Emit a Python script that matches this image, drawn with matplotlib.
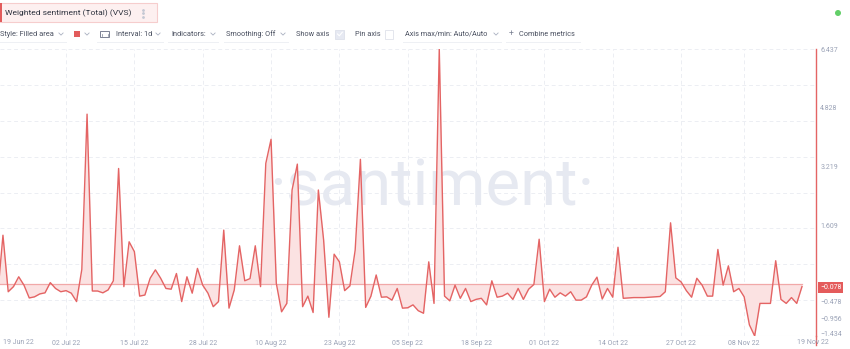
import numpy as np
import pandas as pd
import matplotlib
matplotlib.use("Agg")
import matplotlib.pyplot as plt
import matplotlib.dates as mdates
import matplotlib.transforms as mtransforms
from matplotlib.patches import Rectangle, Circle

plt.rcParams["font.family"] = ["Roboto", "DejaVu Sans"]

# daily weighted sentiment, starting 19 Jun 22
start_date = "2022-06-19"
sentiment = [
    -0.30, 1.33, -0.22, -0.08, 0.19, -0.04, -0.39, -0.36, -0.28, -0.25,
    0.03, -0.13, -0.22, -0.19, -0.26, -0.49, 0.39, 4.65, -0.20, -0.20,
    -0.25, -0.17, 0.08, 3.16, -0.08, 1.15, 0.88, -0.34, -0.31, 0.15,
    0.38, 0.15, -0.13, -0.15, 0.28, -0.49, 0.19, -0.26, 0.42, -0.04,
    -0.26, -0.63, -0.49, 1.47, -0.67, -0.17, 1.04, 0.08, 0.14, 1.04,
    -0.08, 3.30, 3.96, 0.01, -0.77, -0.54, 2.57, 3.28, -0.63, -0.34,
    -0.79, 2.57, 1.20, -0.92, 0.81, 0.60, -0.19, -0.06, 0.92, 3.41,
    -0.65, -0.34, 0.24, -0.37, -0.36, -0.45, -0.13, -0.67, -0.66, -0.58,
    -0.74, -0.81, 0.60, -0.54, 6.437, -0.34, -0.47, -0.04, -0.40, -0.13,
    -0.49, -0.43, -0.40, -0.58, 0.08, -0.37, -0.34, -0.26, -0.43, -0.13,
    -0.43, -0.15, -0.02, 1.22, -0.49, -0.15, -0.37, -0.25, -0.34, -0.22,
    -0.45, -0.45, -0.36, -0.04, 0.18, -0.42, -0.13, -0.37, 1.00, -0.40,
    -0.39, -0.38, -0.38, -0.38, -0.37, -0.36, -0.35, -0.22, 1.67, 0.16,
    0.05, -0.19, -0.37, 0.15, -0.04, -0.34, -0.34, 0.94, -0.04, 0.49,
    -0.22, -0.13, -0.36, -1.13, -1.434, -0.54, -0.54, -0.54, 0.63, -0.43,
    -0.54, -0.38, -0.54, -0.078,
]
tick_dates = [
    "2022-07-02", "2022-07-15", "2022-07-28", "2022-08-10", "2022-08-23",
    "2022-09-05", "2022-09-18", "2022-10-01", "2022-10-14", "2022-10-27",
    "2022-11-08",
]
y_ticks = [6.437, 4.828, 3.219, 1.609, -0.478, -0.956, -1.434]
y_max, y_min = 6.437, -1.434

dates = pd.date_range(start_date, periods=len(sentiment), freq="D")
ticks = pd.to_datetime(tick_dates)

W, H = 850, 349
PLOT_TOP, PLOT_BOTTOM, PLOT_RIGHT = 49, 336, 816
RED = "#e46464"
GRID = "#eceef3"
MUTED = "#9aa2b6"


def fmt(v):
    return f"{v:.3f}".replace("-", "\u2212")


fig = plt.figure(figsize=(W / 100, H / 100), dpi=100, facecolor="white")

# pixel-space layer for the header and toolbar
ui = fig.add_axes([0, 0, 1, 1], zorder=0)
ui.set_xlim(0, W)
ui.set_ylim(H, 0)
ui.axis("off")

ax = fig.add_axes([0, (H - PLOT_BOTTOM) / H, PLOT_RIGHT / W,
                   (PLOT_BOTTOM - PLOT_TOP) / H], zorder=1)
ax.patch.set_alpha(0)

# --- header -------------------------------------------------------------
ui.add_patch(Rectangle((0, 3), 157, 19, fc="#fdf0f0", ec="#f6cdcd", lw=0.8))
ui.add_patch(Rectangle((0, 3), 1.6, 19, fc="#e25c5c", ec="none"))
ui.text(5, 13, "Weighted sentiment (Total) (VVS)", fontsize=6.1,
        color="#2f3440", va="center", ha="left")
ui.plot([143, 143, 143], [9.5, 13, 16.5], "o", ms=1.0, color="#c3c8d3")
ui.add_patch(Circle((838, 13), 3, fc="#62cf68", ec="none"))


def chevron(x, y, color="#a9b0c0"):
    ui.plot([x - 2.2, x, x + 2.2], [y - 1.1, y + 1.1, y - 1.1],
            color=color, lw=0.6, solid_capstyle="round")


bar_y = 34
tool_text = dict(fontsize=5.3, color="#4a5060", va="center", ha="left")
ui.text(0, bar_y, "Style: Filled area", **tool_text)
chevron(61, bar_y)
ui.add_patch(Rectangle((74, bar_y - 2.8), 5.6, 5.6, fc="#e25c5c", ec="none"))
chevron(87, bar_y)
ui.add_patch(Rectangle((100.5, bar_y - 3.2), 9, 6.6, fc="none", ec="#7c8294", lw=0.7))
ui.plot([102, 102], [bar_y - 0.5, bar_y + 2], color="#7c8294", lw=0.5)
ui.plot([108, 108], [bar_y - 0.5, bar_y + 2], color="#7c8294", lw=0.5)
ui.text(116, bar_y, "Interval: 1d", **tool_text)
chevron(158, bar_y)
ui.text(171, bar_y, "Indicators:", **tool_text)
chevron(213, bar_y)
ui.text(226, bar_y, "Smoothing: Off", **tool_text)
chevron(283, bar_y)
ui.text(296, bar_y, "Show axis", **tool_text)
ui.add_patch(Rectangle((335, bar_y - 4.5), 9, 9, fc="#e6e9f2", ec="#dde1ea", lw=0.6))
ui.plot([337.5, 339.3, 342.3], [bar_y, bar_y + 1.8, bar_y - 1.8], color="white", lw=0.8)
ui.text(355, bar_y, "Pin axis", **tool_text)
ui.add_patch(Rectangle((385, bar_y - 4.5), 8.5, 9, fc="white", ec="#dfe2ea", lw=0.6))
ui.text(405, bar_y, "Axis max/min: Auto/Auto", **tool_text)
chevron(496, bar_y)
ui.text(509, bar_y, "+", fontsize=6.2, color="#7c8294", va="center", ha="left")
ui.text(519, bar_y, "Combine metrics", **tool_text)
for x0, x1 in [(0, 66), (97, 163), (168, 218), (224, 288), (403, 501), (506, 580)]:
    ui.plot([x0, x1], [41.5, 41.5], color="#eef0f4", lw=0.7)
ui.plot([PLOT_RIGHT, PLOT_RIGHT], [PLOT_BOTTOM, 345], color=RED, lw=1)

# --- chart --------------------------------------------------------------
ax.set_ylim(y_min, y_max)
ax.set_xlim(dates[0] + pd.Timedelta(hours=10.5),
            dates[-1] + pd.Timedelta(hours=64))

for gy in np.linspace(y_min, y_max, 9)[1:]:
    ax.axhline(gy, color=GRID, lw=0.7, ls=(0, (4, 3)), zorder=0)
for t in ticks:
    ax.axvline(t, color=GRID, lw=0.7, ls=(0, (4, 3)), zorder=0)
ax.axhline(y_min, color="#eef0f4", lw=0.8, zorder=0)

ax.text(0.53, 0.456, "\u00b7santiment\u00b7", transform=ax.transAxes,
        fontsize=47, color="#e6e9f1", ha="center", va="baseline", zorder=0)

ax.fill_between(dates, sentiment, 0, color="#fbe2e2", lw=0, zorder=2)
ax.plot([dates[0], dates[-1]], [0, 0], color="#f1a8a8", lw=0.9, zorder=3)
ax.plot(dates, sentiment, color=RED, lw=1.0, zorder=4)

for side in ("top", "left", "bottom"):
    ax.spines[side].set_visible(False)
ax.spines["right"].set_color(RED)
ax.spines["right"].set_linewidth(1)

ax.yaxis.tick_right()
ax.set_yticks(y_ticks)
ax.set_yticklabels([fmt(v) for v in y_ticks])
ax.tick_params(axis="y", length=0, pad=3, labelsize=5, labelcolor=MUTED)
# lift the lowest value label a touch so it clears the end date
low = ax.get_yticklabels()[-1]
low.set_transform(low.get_transform()
                  + mtransforms.ScaledTranslation(0, 2 / 100, fig.dpi_scale_trans))

ax.set_xticks(ticks)
ax.xaxis.set_major_formatter(mdates.DateFormatter("%d %b %y"))
ax.tick_params(axis="x", length=0, pad=3, labelsize=5, labelcolor=MUTED)

for frac, ha, dx, d in [(0, "left", 3, dates[0]), (1, "center", -3, dates[-1])]:
    ax.annotate(d.strftime("%d %b %y"), xy=(frac, 0), xycoords="axes fraction",
                xytext=(dx, -7), textcoords="offset pixels",
                ha=ha, va="center", fontsize=5, color=MUTED)

last = sentiment[-1]
ax.annotate(fmt(last), xy=(1, last), xycoords=("axes fraction", "data"),
            xytext=(4, -1), textcoords="offset pixels", ha="left", va="center",
            fontsize=5, color="white",
            bbox=dict(boxstyle="square,pad=0.3", fc="#e45b5b", ec="none"))

fig.savefig("out.png", dpi=100, facecolor="white")
